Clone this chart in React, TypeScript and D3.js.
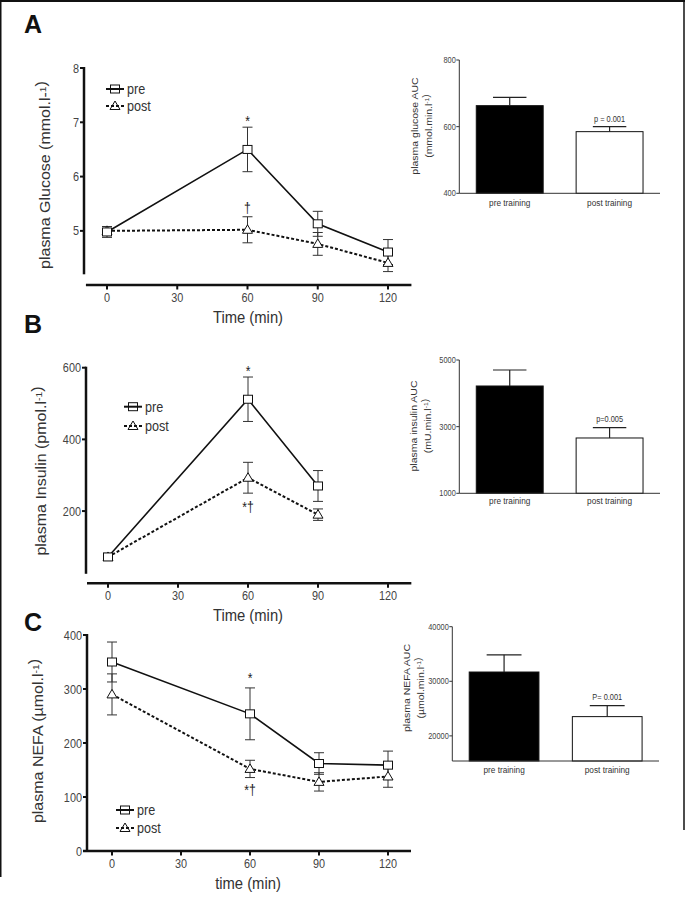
import React from "react";
import * as d3 from "d3";

// ---------- DATA ----------
const timeTicks = [0, 30, 60, 90, 120];

const glucoseTimes = [0, 60, 90, 120];
const glucosePre = [4.98, 6.5, 5.13, 4.61];
const glucosePreErr = [0.1, 0.41, 0.23, 0.23];
const glucosePost = [5.0, 5.02, 4.76, 4.41];
const glucosePostErr = [0.08, 0.24, 0.21, 0.16];
const glucoseTicks = [5, 6, 7, 8];

const insulinTimes = [0, 60, 90];
const insulinPre = [72, 512, 270];
const insulinPreErr = [10, 62, 43];
const insulinPost = [72, 293, 190];
const insulinPostErr = [8, 43, 16];
const insulinTicks = [200, 400, 600];

const nefaTimes = [0, 60, 90, 120];
const nefaPre = [350, 254, 162, 159];
const nefaPreErr = [37, 48, 20, 26];
const nefaPost = [290, 152, 128, 138];
const nefaPostErr = [38, 16, 17, 20];
const nefaTicks = [0, 100, 200, 300, 400];

const barCategories = ["pre training", "post training"];
const glucoseAUC = [663, 585];
const glucoseAUCErr = [25, 15];
const glucoseAUCTicks = [400, 600, 800];
const insulinAUC = [4220, 2660];
const insulinAUCErr = [480, 310];
const insulinAUCTicks = [1000, 3000, 5000];
const nefaAUC = [31700, 23530];
const nefaAUCErr = [3150, 2010];
const nefaAUCTicks = [20000, 30000, 40000];

const FONT = "'Liberation Sans', Arial, Helvetica, sans-serif";
const SX = 0.87;

function T(props: any) {
  const { x, y, size = 12, anchor = "middle", rotate = false, sx = SX, weight = "normal", fill = "#222", children } = props;
  const tr = rotate
    ? `translate(${x},${y}) rotate(-90) scale(1,${sx})`
    : `translate(${x},${y}) scale(${sx},1)`;
  return (
    <text transform={tr} fontSize={size} textAnchor={anchor} fontFamily={FONT} fontWeight={weight} fill={fill}>
      {children}
    </text>
  );
}

function Sup({ children }: any) {
  return (
    <>
      <tspan dy="-0.45em" fontSize="0.65em">{children}</tspan>
      <tspan dy="0.45em"></tspan>
    </>
  );
}

function Square({ x, y, fill = "white" }: any) {
  return <rect x={x - 4.5} y={y - 4} width={9} height={8} fill={fill} stroke="#111" strokeWidth={1} />;
}
function Tri({ x, y, fill = "white" }: any) {
  return <path d={`M${x},${y - 5} L${x + 5},${y + 3.5} L${x - 5},${y + 3.5} Z`} fill={fill} stroke="#111" strokeWidth={1} />;
}

function LineChart(props: any) {
  const { times, pre, preErr, post, postErr, yTicks, xr, yDomain, yRange, yAxisX, xAxisY, xAxisExt, legend, yLabel, xLabel, xLabelY, tickLabelY, notes, ylabX, ylabY } = props;
  const x = d3.scaleLinear().domain([0, 120]).range(xr);
  const y = d3.scaleLinear().domain(yDomain).range(yRange);
  const preLine = d3.line<number>().x((_, i) => x(times[i])).y((d) => y(d))(pre) as string;
  const postLine = d3.line<number>().x((_, i) => x(times[i])).y((d) => y(d))(post) as string;
  const errBar = (t: number, v: number, e: number, key: string) => (
    <g key={key} stroke="#333" strokeWidth={1}>
      <line x1={x(t)} x2={x(t)} y1={y(v - e)} y2={y(v + e)} />
      <line x1={x(t) - 5} x2={x(t) + 5} y1={y(v - e)} y2={y(v - e)} />
      <line x1={x(t) - 5} x2={x(t) + 5} y1={y(v + e)} y2={y(v + e)} />
    </g>
  );
  return (
    <g>
      {/* axes */}
      <line x1={yAxisX} x2={yAxisX} y1={y(yDomain[0])} y2={y(yDomain[1]) - 1} stroke="#111" strokeWidth={2.5} />
      {yTicks.map((t: number) => (
        <g key={"yt" + t}>
          <line x1={yAxisX - 4} x2={yAxisX} y1={y(t)} y2={y(t)} stroke="#111" strokeWidth={2} />
          <T x={yAxisX - 5} y={y(t) + 4.5} size={12.5} anchor="end" fill="#444">{t}</T>
        </g>
      ))}
      <line x1={x(xAxisExt[0])} x2={x(xAxisExt[1])} y1={xAxisY} y2={xAxisY} stroke="#111" strokeWidth={2.5} />
      {timeTicks.map((t) => (
        <g key={"xt" + t}>
          <line x1={x(t)} x2={x(t)} y1={xAxisY} y2={xAxisY + 4.5} stroke="#111" strokeWidth={2} />
          <T x={x(t)} y={tickLabelY} size={12.5} fill="#444">{t}</T>
        </g>
      ))}
      <T x={248} y={xLabelY} size={17} fill="#333">{xLabel}</T>
      <T x={ylabX} y={ylabY} size={16} rotate fill="#333">{yLabel}</T>
      {/* error bars */}
      {times.map((t: number, i: number) => errBar(t, pre[i], preErr[i], "pe" + i))}
      {times.map((t: number, i: number) => errBar(t, post[i], postErr[i], "qe" + i))}
      {/* lines */}
      <path d={postLine} fill="none" stroke="#111" strokeWidth={2} strokeDasharray="3,2" />
      <path d={preLine} fill="none" stroke="#111" strokeWidth={1.6} />
      {times.map((t: number, i: number) => <Tri key={"tr" + i} x={x(t)} y={y(post[i])} />)}
      {times.map((t: number, i: number) => <Square key={"sq" + i} x={x(t)} y={y(pre[i])} />)}
      {/* notes */}
      {notes.map((n: any, i: number) => (
        <T key={"n" + i} x={x(n.t)} y={n.y} size={14} fill="#222">{n.s}</T>
      ))}
      {/* legend */}
      <g>
        <line x1={legend.x} x2={legend.x + 18} y1={legend.y1} y2={legend.y1} stroke="#111" strokeWidth={2} />
        <Square x={legend.x + 9} y={legend.y1} fill="none" />
        <T x={legend.x + 21} y={legend.y1 + 5} size={14.5} anchor="start" fill="#333">pre</T>
        <line x1={legend.x} x2={legend.x + 18} y1={legend.y2} y2={legend.y2} stroke="#111" strokeWidth={2} strokeDasharray="3,2" />
        <Tri x={legend.x + 9} y={legend.y2} fill="none" />
        <T x={legend.x + 21} y={legend.y2 + 5} size={14.5} anchor="start" fill="#333">post</T>
      </g>
    </g>
  );
}

function BarChart(props: any) {
  const { values, errs, ticks, yDomain, yRange, xRange, pi, po, pText, pY, catY, lab1, lab2, lab1X, lab2X, labY } = props;
  const x = d3.scaleBand().domain(barCategories).range(xRange).paddingInner(pi).paddingOuter(po);
  const y = d3.scaleLinear().domain(yDomain).range(yRange);
  const bw = x.bandwidth();
  return (
    <g>
      {barCategories.map((c, i) => {
        const x0 = x(c) as number;
        const cx = x0 + bw / 2;
        return (
          <g key={c}>
            <rect x={x0} y={y(values[i])} width={bw} height={y(yDomain[0]) - y(values[i])} fill={i === 0 ? "#000" : "#fff"} stroke="#111" strokeWidth={1} />
            <line x1={cx} x2={cx} y1={y(values[i])} y2={y(values[i] + errs[i])} stroke="#222" strokeWidth={1.2} />
            <line x1={cx - bw / 4} x2={cx + bw / 4} y1={y(values[i] + errs[i])} y2={y(values[i] + errs[i])} stroke="#222" strokeWidth={1.2} />
            <T x={cx} y={catY} size={9.5} fill="#333">{c}</T>
          </g>
        );
      })}
      <line x1={xRange[0]} x2={xRange[0]} y1={y(yDomain[0])} y2={y(yDomain[1])} stroke="#333" strokeWidth={1} />
      <line x1={xRange[0]} x2={xRange[1]} y1={y(yDomain[0])} y2={y(yDomain[0])} stroke="#333" strokeWidth={1} />
      {ticks.map((t: number) => (
        <g key={t}>
          <line x1={xRange[0] - 3} x2={xRange[0]} y1={y(t)} y2={y(t)} stroke="#333" strokeWidth={1} />
          <T x={xRange[0] - 3.5} y={y(t) + 3} size={8.5} anchor="end" fill="#444">{t}</T>
        </g>
      ))}
      <T x={(x(barCategories[1]) as number) + bw / 2} y={pY} size={8.5} fill="#333">{pText}</T>
      <T x={lab1X} y={labY} size={10.5} rotate fill="#333">{lab1}</T>
      <T x={lab2X} y={labY} size={10.5} rotate fill="#333">{lab2}</T>
    </g>
  );
}

export default function App() {
  return (
    <svg width={685} height={907} style={{ position: "absolute", left: 0, top: 0, background: "#fff" }}>
      <rect x={0} y={0} width={685} height={907} fill="#fff" />
      {/* frame */}
      <line x1={0} x2={685} y1={1} y2={1} stroke="#111" strokeWidth={2} />
      <line x1={0.75} x2={0.75} y1={0} y2={877} stroke="#111" strokeWidth={1.5} />
      <line x1={684} x2={684} y1={0} y2={830} stroke="#111" strokeWidth={1.5} />

      {/* panel letters */}
      <text x={24} y={33} fontSize={25} fontWeight="bold" fontFamily={FONT} fill="#111">A</text>
      <text x={24} y={333} fontSize={25} fontWeight="bold" fontFamily={FONT} fill="#111">B</text>
      <text x={24} y={631} fontSize={25} fontWeight="bold" fontFamily={FONT} fill="#111">C</text>

      <LineChart
        times={glucoseTimes} pre={glucosePre} preErr={glucosePreErr} post={glucosePost} postErr={glucosePostErr}
        yTicks={glucoseTicks} xr={[107, 388]} yDomain={[4.2, 8]} yRange={[274.3, 68]}
        yAxisX={84} xAxisY={285} xAxisExt={[-9, 130]} tickLabelY={301.5}
        xLabel="Time (min)" xLabelY={322.5}
        yLabel={<>plasma Glucose (mmol.l-<Sup>1</Sup>)</>} ylabX={50} ylabY={175}
        legend={{ x: 106, y1: 89, y2: 106 }}
        notes={[{ t: 60, y: 126, s: "*" }, { t: 60, y: 213, s: "†" }]}
      />
      <LineChart
        times={insulinTimes} pre={insulinPre} preErr={insulinPreErr} post={insulinPost} postErr={insulinPostErr}
        yTicks={insulinTicks} xr={[108, 388]} yDomain={[25, 600]} yRange={[573.8, 367.7]}
        yAxisX={86} xAxisY={583.3} xAxisExt={[-9, 130]} tickLabelY={599.5}
        xLabel="Time (min)" xLabelY={621}
        yLabel={<>plasma Insulin (pmol.l<Sup>-1</Sup>)</>} ylabX={46} ylabY={471}
        legend={{ x: 124, y1: 406.7, y2: 426 }}
        notes={[{ t: 60, y: 376, s: "*" }, { t: 60, y: 512, s: "*†" }]}
      />
      <LineChart
        times={nefaTimes} pre={nefaPre} preErr={nefaPreErr} post={nefaPost} postErr={nefaPostErr}
        yTicks={nefaTicks} xr={[112, 388]} yDomain={[0, 400]} yRange={[851, 635]}
        yAxisX={87} xAxisY={851} xAxisExt={[-12.6, 130]} tickLabelY={867.5}
        xLabel="time (min)" xLabelY={889}
        yLabel={<>plasma NEFA (µmol.l<Sup>-1</Sup>)</>} ylabX={43} ylabY={741}
        legend={{ x: 116, y1: 810, y2: 828 }}
        notes={[{ t: 60, y: 683, s: "*" }, { t: 60, y: 795, s: "*†" }]}
      />

      <BarChart
        values={glucoseAUC} errs={glucoseAUCErr} ticks={glucoseAUCTicks}
        yDomain={[400, 800]} yRange={[193.3, 60]} xRange={[459.3, 660]} pi={0.33} po={0.17}
        pText="p = 0.001" pY={122} catY={205.5}
        lab1="plasma glucose AUC" lab2={<>(mmol.min.l<Sup>-1</Sup>)</>} lab1X={418} lab2X={432} labY={126}
      />
      <BarChart
        values={insulinAUC} errs={insulinAUCErr} ticks={insulinAUCTicks}
        yDomain={[1000, 5000]} yRange={[493.3, 360]} xRange={[459.3, 660]} pi={0.33} po={0.17}
        pText="p=0.005" pY={422} catY={503.5}
        lab1="plasma insulin AUC" lab2={<>(mU.min.l<Sup>-1</Sup>)</>} lab1X={417} lab2X={431} labY={426}
      />
      <BarChart
        values={nefaAUC} errs={nefaAUCErr} ticks={nefaAUCTicks}
        yDomain={[15400, 40000]} yRange={[761, 626.7]} xRange={[452.3, 659]} pi={0.324} po={0.164}
        pText="P= 0.001" pY={700} catY={772.5}
        lab1="plasma NEFA AUC" lab2={<>(µmol.min.l<Sup>-1</Sup>)</>} lab1X={410} lab2X={424} labY={688}
      />
    </svg>
  );
}
